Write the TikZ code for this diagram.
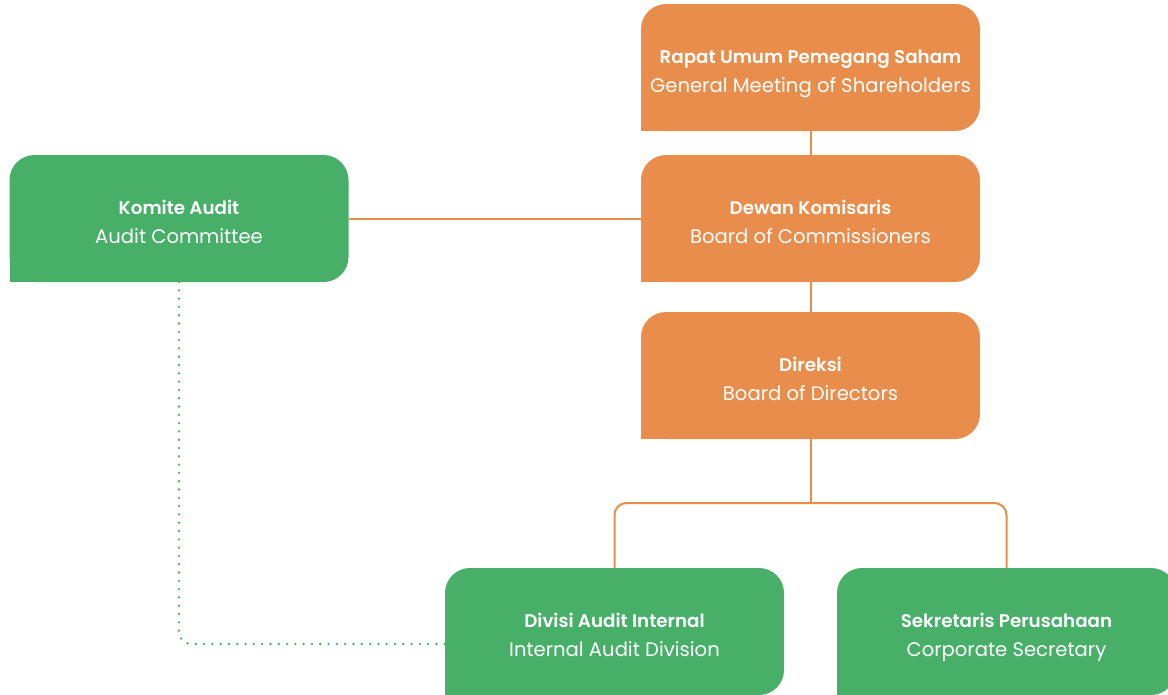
\documentclass[tikz,border=0pt]{standalone}
\usepackage{fontspec}
\setmainfont{Poppins}[BoldFont={* SemiBold}]
\definecolor{orgc}{HTML}{E88D4B}
\definecolor{grnc}{HTML}{48AF69}
\newcommand{\twolines}[2]{{\fontsize{18.3}{29}\selectfont\bfseries\strut #1}\\{\fontsize{19.6}{29}\selectfont\strut #2}}
\begin{document}
\begin{tikzpicture}[x=1pt,y=-1pt,
  boxbase/.style={rectangle, rounded corners=25pt, minimum width=339pt, minimum height=127pt,
    inner sep=0pt, outer sep=0pt},
  obox/.style={boxbase, fill=orgc},
  gbox/.style={boxbase, fill=grnc},
  txt/.style={text=white, align=center, inner sep=0pt, font=\fontsize{19}{29}\selectfont},
  oline/.style={draw=orgc, line width=2pt},
  dline/.style={draw=grnc, line width=2.6pt, line cap=round, dash pattern=on 0pt off 8.3pt}]
\useasboundingbox (0,0) rectangle (1168,694);
\clip (0,0) rectangle (1168,694);
\coordinate (split) at (810.5,503);
\node[obox] (rapat) at (810.5,67.5) {};
\node[obox] (dewan) at (810.5,218.5) {};
\node[gbox] (komite) at (179,218.5) {};
\node[obox] (direksi) at (810.5,375.5) {};
\node[gbox] (divisi) at (614.5,631.5) {};
\node[gbox] (sekr) at (1006.5,631.5) {};
\fill[orgc] (rapat.south west) rectangle ++(30,-30);
\fill[orgc] (dewan.south west) rectangle ++(30,-30);
\fill[grnc] (komite.south west) rectangle ++(30,-30);
\fill[orgc] (direksi.south west) rectangle ++(30,-30);
\fill[grnc] (divisi.south west) rectangle ++(30,-30);
\fill[grnc] (sekr.south west) rectangle ++(30,-30);
\node[txt] (rapat-t) at ([yshift=-4.5pt]rapat.center) {\twolines{Rapat Umum Pemegang Saham}{General Meeting of Shareholders}};
\node[txt] (dewan-t) at ([yshift=-4.5pt]dewan.center) {\twolines{Dewan Komisaris}{Board of Commissioners}};
\node[txt] (komite-t) at ([yshift=-4.5pt]komite.center) {\twolines{Komite Audit}{Audit Committee}};
\node[txt] (direksi-t) at ([yshift=-4.5pt]direksi.center) {\twolines{Direksi}{Board of Directors}};
\node[txt] (divisi-t) at ([yshift=-4.5pt]divisi.center) {\twolines{Divisi Audit Internal}{Internal Audit Division}};
\node[txt] (sekr-t) at ([yshift=-4.5pt]sekr.center) {\twolines{Sekretaris Perusahaan}{Corporate Secretary}};
\coordinate (dotend) at ([yshift=-12.5pt]divisi.west);
\draw[oline] (rapat.south) -- (dewan.north);
\draw[oline] (dewan.south) -- (direksi.north);
\draw[oline] (komite.east) -- (dewan.west);
\draw[oline] (direksi.south) -- (split);
\draw[oline, rounded corners=12pt] (divisi.north) -- (divisi.north |- split) -- (sekr.north |- split) -- (sekr.north);
\draw[dline, rounded corners=12pt] (komite.south) |- (dotend);
\end{tikzpicture}
\end{document}
